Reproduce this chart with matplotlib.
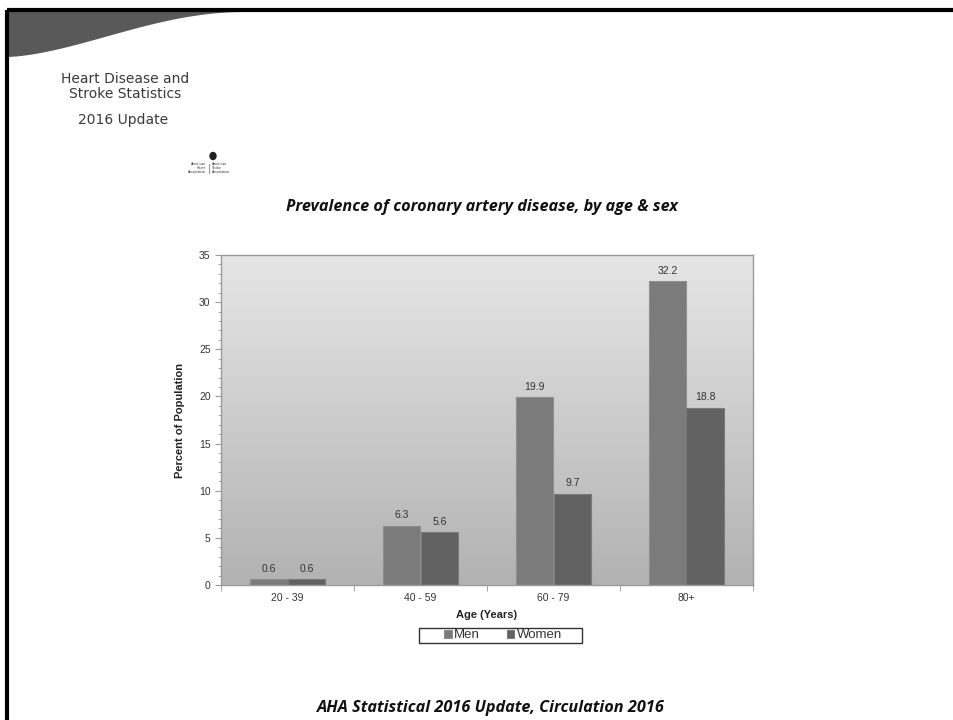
import numpy as np
import matplotlib
matplotlib.use("Agg")
import matplotlib.pyplot as plt
from matplotlib.patches import Polygon, Rectangle, Ellipse

categories = ["20 - 39", "40 - 59", "60 - 79", "80+"]
men = [0.6, 6.3, 19.9, 32.2]
women = [0.6, 5.6, 9.7, 18.8]
series_names = ["Men", "Women"]
y_ticks = [0, 5, 10, 15, 20, 25, 30, 35]

W, H = 954, 720
fig = plt.figure(figsize=(W / 100, H / 100), dpi=100)
fig.patch.set_facecolor("white")

# slide frame and header wave (figure-pixel overlay axes)
ov = fig.add_axes([0, 0, 1, 1])
ov.set_xlim(0, W)
ov.set_ylim(H, 0)
ov.axis("off")
ov.plot([7, W], [10, 10], color="black", lw=3, solid_capstyle="butt")
ov.plot([7, 7], [10, H], color="black", lw=3, solid_capstyle="butt")
xs = np.linspace(7, 245, 60)
t = (xs - 7) / (245 - 7)
ys = 57 - 45 * (0.5 - 0.5 * np.cos(np.pi * t)) ** 0.8
poly = np.vstack([np.column_stack([xs, ys]), [[245, 10], [7, 10]]])
ov.add_patch(Polygon(poly, closed=True, facecolor="#595959", edgecolor="none"))

# header texts
hdr = dict(ha="center", va="center", fontsize=10, color="#3a3a3a",
           family="DejaVu Sans")
ov.text(125, 79, "Heart Disease and", **hdr)
ov.text(125, 94, "Stroke Statistics", **hdr)
ov.text(123, 120, "2016 Update", **hdr)
# small logo
ov.add_patch(Ellipse((213, 156), 6, 7, color="#222222"))
ov.text(206, 168, "American\nHeart\nAssociation", ha="right", va="center",
        fontsize=2.3, color="#333333", linespacing=0.9)
ov.plot([209, 209], [164, 173], color="#666666", lw=0.5)
ov.text(212, 168, "American\nStroke\nAssociation.", ha="left", va="center",
        fontsize=2.3, color="#333333", linespacing=0.9)

ov.text(482, 207, "Prevalence of coronary artery disease, by age & sex",
        ha="center", va="center", fontsize=11.7, fontweight="bold",
        fontstyle="italic", family="Open Sans", color="#111111")
ov.text(491, 708, "AHA Statistical 2016 Update, Circulation 2016",
        ha="center", va="center", fontsize=11.7, fontweight="bold",
        fontstyle="italic", family="Open Sans", color="#111111")

# chart axes
ax = fig.add_axes([221 / W, 1 - 585 / H, (753 - 221) / W, (585 - 255) / H])
x = np.arange(len(categories))
ax.set_xlim(-0.5, len(categories) - 0.5)
ax.set_ylim(0, 35)

grad = np.linspace(0, 1, 256).reshape(-1, 1)
ax.imshow(grad, extent=[-0.5, len(categories) - 0.5, 0, 35], aspect="auto",
          cmap=matplotlib.colors.LinearSegmentedColormap.from_list(
              "g", ["#b2b2b2", "#e6e6e6"]), origin="lower", zorder=0)

bw = 0.285
b1 = ax.bar(x - bw / 2, men, bw, color="#7b7b7b", edgecolor="#8e8e8e",
            linewidth=0.8, zorder=2, label=series_names[0])
b2 = ax.bar(x + bw / 2, women, bw, color="#626262", edgecolor="#7a7a7a",
            linewidth=0.8, zorder=2, label=series_names[1])
for bars, vals in ((b1, men), (b2, women)):
    for r, v in zip(bars, vals):
        ax.text(r.get_x() + r.get_width() / 2, v + 0.6, f"{v:.1f}",
                ha="center", va="bottom", fontsize=7.5, color="#333333",
                family="Liberation Sans")

for s in ax.spines.values():
    s.set_color("#9a9a9a")
    s.set_linewidth(1.0)

ax.set_yticks(y_ticks)
ax.set_yticks(np.arange(0, 36, 1), minor=True)
ax.tick_params(axis="y", which="major", length=4, color="#9a9a9a",
               labelsize=7.5, labelcolor="#333333")
ax.tick_params(axis="y", which="minor", length=2, color="#9a9a9a")
ax.set_xticks(x)
ax.set_xticklabels(categories, fontsize=7.5, color="#333333",
                   family="Liberation Sans")
ax.tick_params(axis="x", which="major", length=0, pad=6)
ax.set_xticks(np.arange(-0.5, len(categories), 1), minor=True)
ax.tick_params(axis="x", which="minor", length=4, color="#9a9a9a")
for lab in ax.get_yticklabels():
    lab.set_family("Liberation Sans")

ax.set_ylabel("Percent of Population", fontsize=8, fontweight="bold",
              family="Liberation Sans", color="#222222", labelpad=10)
ax.set_xlabel("Age (Years)", fontsize=8, fontweight="bold",
              family="Liberation Sans", color="#222222", labelpad=5)

leg = fig.legend(handles=[b1, b2], labels=series_names, loc="center",
                 bbox_to_anchor=(503 / W, 1 - 635.5 / H), ncol=2,
                 frameon=False, fontsize=9.5,
                 prop={"family": "Liberation Sans", "size": 9.5},
                 handlelength=0.6, handleheight=0.6, handletextpad=0.2,
                 columnspacing=2.0, borderpad=0.15, borderaxespad=0)
for t_ in leg.get_texts():
    t_.set_color("#333333")
ov.add_patch(Rectangle((419, 628), 163, 15, fill=False, edgecolor="#333333",
                       linewidth=1.0))

fig.savefig("out.png", dpi=100, facecolor="white")
